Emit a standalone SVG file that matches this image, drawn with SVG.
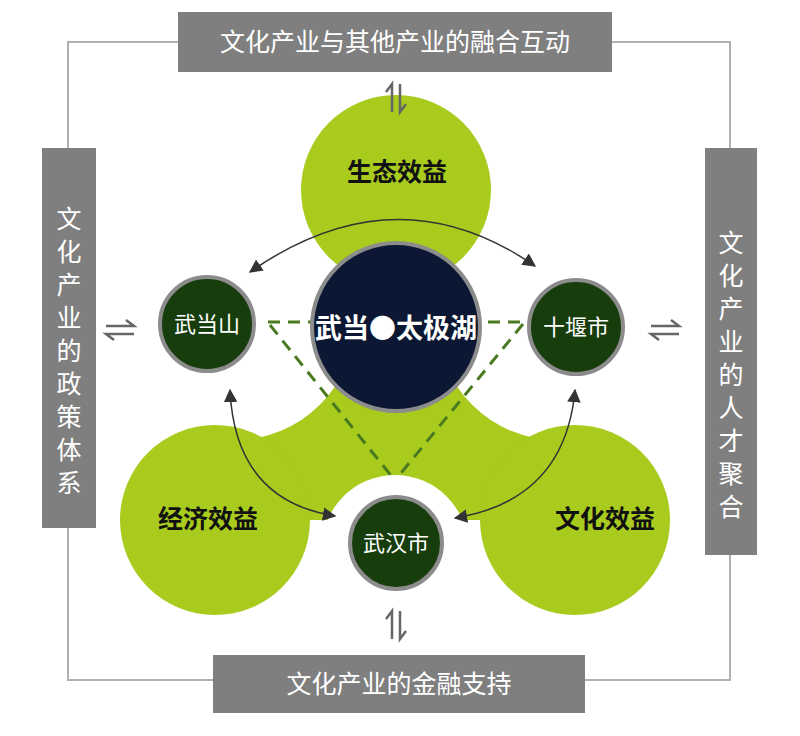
<svg xmlns="http://www.w3.org/2000/svg" width="800" height="736" viewBox="0 0 800 736">
<style>
.box{fill:#7f7f7f}
.bt{fill:#fff;font-family:"Noto Sans CJK SC",sans-serif;font-size:25px;text-anchor:middle}
.g{fill:#a8cb1e}
.w{fill:#fff}
.lbl{fill:#111;font-family:"Noto Sans CJK SC",sans-serif;font-size:25px;font-weight:bold;text-anchor:middle}
.node{fill:#173d0d;stroke:#8c8c8c;stroke-width:4}
.nt{fill:#fff;font-family:"Noto Sans CJK SC",sans-serif;font-size:22px;text-anchor:middle}
.arc{fill:none;stroke:#333;stroke-width:1.5;marker-end:url(#ah)}
.hp{fill:none;stroke:#666;stroke-width:2.5}
</style>
<defs>
<marker id="ah" viewBox="0 0 10 10" refX="9" refY="5" markerWidth="9" markerHeight="9" orient="auto-start-reverse"><path d="M0,0 L10,5 L0,10 Z" fill="#333"/></marker>
<g id="harp"><path class="hp" d="M-4,14 V-14 L-10,-6 M4,-14 V14 L10,6"/></g>
</defs>
<rect x="68" y="42" width="662" height="638" fill="none" stroke="#b0b0b0" stroke-width="2"/>
<g id="blobs">
<path class="g" d="M396,190 L215,520 L575,520 Z"/>
<circle class="w" cx="235" cy="320" r="120"/>
<circle class="w" cx="557" cy="320" r="120"/>
<circle class="g" cx="396" cy="190" r="95"/>
<circle class="g" cx="215" cy="520" r="95"/>
<circle class="g" cx="575" cy="520" r="95"/>
<circle class="w" cx="395" cy="548" r="73"/>
</g>
<g id="labels">
<text class="lbl" x="397" y="181">生态效益</text>
<text class="lbl" x="208" y="528">经济效益</text>
<text class="lbl" x="605" y="528">文化效益</text>
</g>
<g id="connectors">
<path d="M268,322 H525 M270,325 L393,478 M523,324 L397,478" fill="none" stroke="#4a7a1f" stroke-width="3" stroke-dasharray="12,8"/>
<path class="arc" d="M250,272 Q396,170 535,266" marker-start="url(#ah)"/>
<path class="arc" d="M230,390 Q235,500 335,516" marker-start="url(#ah)"/>
<path class="arc" d="M575,390 Q565,500 455,518" marker-start="url(#ah)"/>
<use href="#harp" x="396" y="98"/>
<use href="#harp" transform="translate(396,625)"/>
<use href="#harp" transform="translate(120,330) rotate(90)"/>
<use href="#harp" transform="translate(665,330) rotate(90)"/>
</g>
<g id="center"><circle cx="396" cy="327" r="84" fill="#0c1833" stroke="#8c8c8c" stroke-width="4"/>
<text x="396" y="338" fill="#fff" font-family="Noto Sans CJK SC,sans-serif" font-size="27" font-weight="bold" text-anchor="middle">武当●太极湖</text></g>
<g id="wudang"><circle class="node" cx="207" cy="324" r="47"/><text class="nt" x="207" y="332">武当山</text></g>
<g id="shiyan"><circle class="node" cx="576" cy="327" r="47"/><text class="nt" x="576" y="335">十堰市</text></g>
<g id="wuhan"><circle class="node" cx="396" cy="543" r="46"/><text class="nt" x="396" y="551">武汉市</text></g>
<g id="top"><rect class="box" x="178" y="12" width="434" height="60"/><text class="bt" x="395" y="51">文化产业与其他产业的融合互动</text></g>
<g id="bottom"><rect class="box" x="213" y="655" width="372" height="58"/><text class="bt" x="399" y="693">文化产业的金融支持</text></g>
<g id="left"><rect class="box" x="42" y="148" width="54" height="380"/>
<text class="bt" x="69"><tspan x="69" y="228">文</tspan><tspan x="69" y="261">化</tspan><tspan x="69" y="294">产</tspan><tspan x="69" y="327">业</tspan><tspan x="69" y="360">的</tspan><tspan x="69" y="393">政</tspan><tspan x="69" y="426">策</tspan><tspan x="69" y="459">体</tspan><tspan x="69" y="492">系</tspan></text></g>
<g id="right"><rect class="box" x="705" y="148" width="52" height="407"/>
<text class="bt" x="731"><tspan x="731" y="252">文</tspan><tspan x="731" y="285">化</tspan><tspan x="731" y="318">产</tspan><tspan x="731" y="351">业</tspan><tspan x="731" y="384">的</tspan><tspan x="731" y="417">人</tspan><tspan x="731" y="450">才</tspan><tspan x="731" y="483">聚</tspan><tspan x="731" y="516">合</tspan></text></g>
</svg>
